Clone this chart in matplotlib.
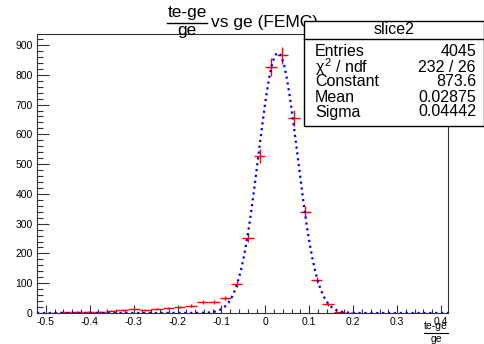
import numpy as np
import matplotlib
matplotlib.use("Agg")
import matplotlib.pyplot as plt
from matplotlib.patches import Rectangle
from matplotlib.lines import Line2D
from matplotlib.ticker import MultipleLocator

plt.rcParams['font.family'] = ['Liberation Sans', 'DejaVu Sans']
plt.rcParams['axes.unicode_minus'] = False
plt.rcParams['mathtext.fontset'] = 'custom'
plt.rcParams['mathtext.rm'] = 'Liberation Sans'
plt.rcParams['mathtext.it'] = 'Liberation Sans'

# histogram "slice2": 36 bins between -0.52 and 0.416
x_low, x_high, n_bins = -0.52, 0.416, 36
counts = [0, 1, 3, 4, 4, 5, 8, 11, 12, 11, 12, 16, 20, 24, 38, 38, 50, 97,
          253, 527, 826, 865, 655, 340, 111, 29, 3, 1, 0, 0, 0, 0, 0, 0, 0, 0]

# gaussian fit results from the stats box
fit_const, fit_mean, fit_sigma = 873.6, 0.02875, 0.04442
stat_names = ["Entries", "$\\chi^{2}$ / ndf", "Constant", "Mean", "Sigma"]
stat_values = ["4045", "232 / 26", "873.6", "0.02875", "0.04442"]

W, H = 485, 344
fig = plt.figure(figsize=(W / 100, H / 100), dpi=100)

def fx(px):
    return px / W

def fy(py):
    return 1 - py / H

ax = fig.add_axes([fx(37), fy(313), fx(448) - fx(37), fy(34) - fy(313)])

edges = np.linspace(x_low, x_high, n_bins + 1)
centers = 0.5 * (edges[:-1] + edges[1:])
width = edges[1] - edges[0]
counts = np.array(counts, dtype=float)
keep = counts > 0
ax.errorbar(centers[keep], counts[keep], xerr=width / 2, yerr=np.sqrt(counts[keep]),
            fmt='none', ecolor='red', elinewidth=1, capsize=0, zorder=2)

xf = np.linspace(x_low, x_high, 400)
yf = fit_const * np.exp(-0.5 * ((xf - fit_mean) / fit_sigma) ** 2)
ax.plot(xf, yf, color='blue', lw=1.6, ls=':', zorder=3)

ax.set_xlim(x_low, x_high)
ax.set_ylim(0, 937)
ax.xaxis.set_major_locator(MultipleLocator(0.1))
ax.xaxis.set_minor_locator(MultipleLocator(0.02))
ax.yaxis.set_major_locator(MultipleLocator(100))
ax.yaxis.set_minor_locator(MultipleLocator(20))
ax.xaxis.set_major_formatter(matplotlib.ticker.FuncFormatter(lambda v, p: f"{v:g}" if abs(v) > 1e-9 else "0"))
ax.tick_params(axis='both', which='both', direction='in', top=False, right=False,
               labelsize=7.5, color='#333333', width=0.8)
ax.tick_params(axis='x', which='major', length=6, pad=3)
ax.tick_params(axis='x', which='minor', length=3)
ax.tick_params(axis='y', which='major', length=8.9, pad=3)
ax.tick_params(axis='y', which='minor', length=4.4)
for s in ax.spines.values():
    s.set_linewidth(0.8)
    s.set_color('#333333')

# title: fraction (te-ge)/ge vs ge (FEMC)
fs_t = 12.5
fig.text(fx(187), fy(13), "te-ge", fontsize=fs_t, ha='center', va='center')
fig.add_artist(Line2D([fx(167), fx(207)], [fy(23), fy(23)], color='black', lw=1))
fig.text(fx(187), fy(31), "ge", fontsize=fs_t, ha='center', va='center')
fig.text(fx(211), fy(22), "vs ge (FEMC)", fontsize=fs_t, ha='left', va='center')

# x axis title
fig.text(fx(436), fy(326), "te-ge", fontsize=7.5, ha='center', va='center')
fig.add_artist(Line2D([fx(424), fx(448)], [fy(333), fy(333)], color='black', lw=0.8))
fig.text(fx(436), fy(339), "ge", fontsize=7.5, ha='center', va='center')

# stats box
bx0, by0, bx1, by1 = 304, 21, 484, 126
fig.add_artist(Rectangle((fx(bx0), fy(by1)), fx(bx1) - fx(bx0), fy(by0) - fy(by1),
                         transform=fig.transFigure, facecolor='white',
                         edgecolor='black', lw=1, zorder=5))
fig.add_artist(Line2D([fx(bx0), fx(bx1)], [fy(39), fy(39)], color='black', lw=1, zorder=6))
fig.text(fx(394), fy(30), "slice2", fontsize=11.5, ha='center', va='center', zorder=7)
for i, (n, v) in enumerate(zip(stat_names, stat_values)):
    yy = 52 + 15 * i
    fig.text(fx(315), fy(yy), n, fontsize=11.5, ha='left', va='center', zorder=7)
    fig.text(fx(476), fy(yy), v, fontsize=11.5, ha='right', va='center', zorder=7)

fig.savefig("out.png", dpi=100)
